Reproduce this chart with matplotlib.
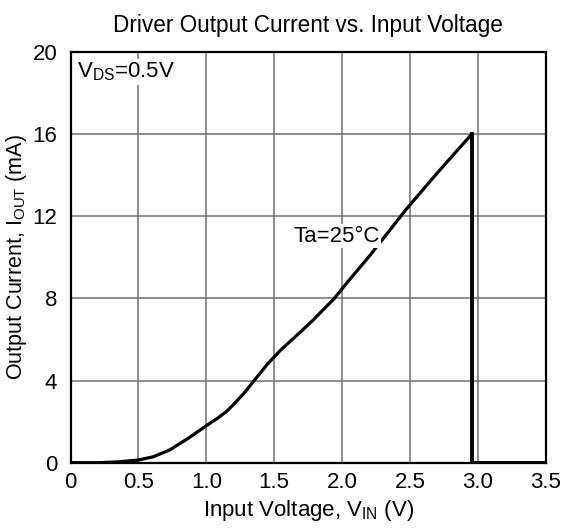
import matplotlib

matplotlib.use("Agg")
import matplotlib.pyplot as plt

plt.rcParams["font.family"] = ["Liberation Sans", "DejaVu Sans"]

# curve (V_IN in volts, I_OUT in mA)
vin = [0.0, 0.2, 0.35, 0.5, 0.61, 0.73, 0.87, 1.0, 1.08, 1.15, 1.2, 1.28, 1.36,
       1.45, 1.55, 1.65, 1.78, 1.94, 2.06, 2.2, 2.48, 2.7, 2.955]
iout = [0.0, 0.0, 0.04, 0.13, 0.29, 0.62, 1.2, 1.8, 2.15, 2.5, 2.83, 3.4, 4.06,
        4.8, 5.5, 6.1, 6.9, 7.98, 8.95, 10.05, 12.4, 14.1, 16.0]
# cutoff above the peak input voltage
cut_v = [2.955, 2.955, 3.5]
cut_i = [16.0, 0.0, 0.0]

xticks = [0, 0.5, 1.0, 1.5, 2.0, 2.5, 3.0, 3.5]
xtick_labels = ["0", "0.5", "1.0", "1.5", "2.0", "2.5", "3.0", "3.5"]
yticks = [0, 4, 8, 12, 16, 20]

W, H = 561, 528
fig = plt.figure(figsize=(W / 100, H / 100), dpi=100)
ax = fig.add_axes([70.5 / W, 1 - 462.7 / H, 475.2 / W, 410.7 / H])

ax.plot(vin, iout, color="black", lw=2.3, solid_joinstyle="round", zorder=3)
ax.plot(cut_v, cut_i, color="black", lw=2.8, solid_joinstyle="miter", zorder=3)

ax.set_xlim(0, 3.5)
ax.set_ylim(0, 20)
ax.set_xticks(xticks)
ax.set_xticklabels(xtick_labels)
ax.set_yticks(yticks)
ax.tick_params(length=0, labelsize=16)
ax.tick_params(axis="x", pad=7)
ax.tick_params(axis="y", pad=9.5)
ax.grid(True, color="#707070", lw=1.1)
ax.set_axisbelow(True)
for s in ax.spines.values():
    s.set_linewidth(1.6)
    s.set_zorder(4)

ax.set_xlabel(r"Input Voltage, V$\mathregular{_{IN}}$ (V)", fontsize=16)
ax.set_ylabel(r"Output Current, I$\mathregular{_{OUT}}$ (mA)", fontsize=15.5)
ax.xaxis.set_label_coords(0.5, -0.085)
ax.yaxis.set_label_coords(-0.088, 0.5)
fig.text(308 / W, 1 - 32 / H, "Driver Output Current vs. Input Voltage",
         ha="center", va="baseline", fontsize=16.3)

box = dict(facecolor="white", edgecolor="none", pad=1)
ax.text(0.046, 19.03, r"V$\mathregular{_{DS}}$=0.5V", fontsize=16, va="center",
        bbox=box, zorder=5)
ax.text(1.64, 11.03, "Ta=25°C", fontsize=16, va="center", bbox=box, zorder=5)

fig.savefig("out.png", dpi=100)
